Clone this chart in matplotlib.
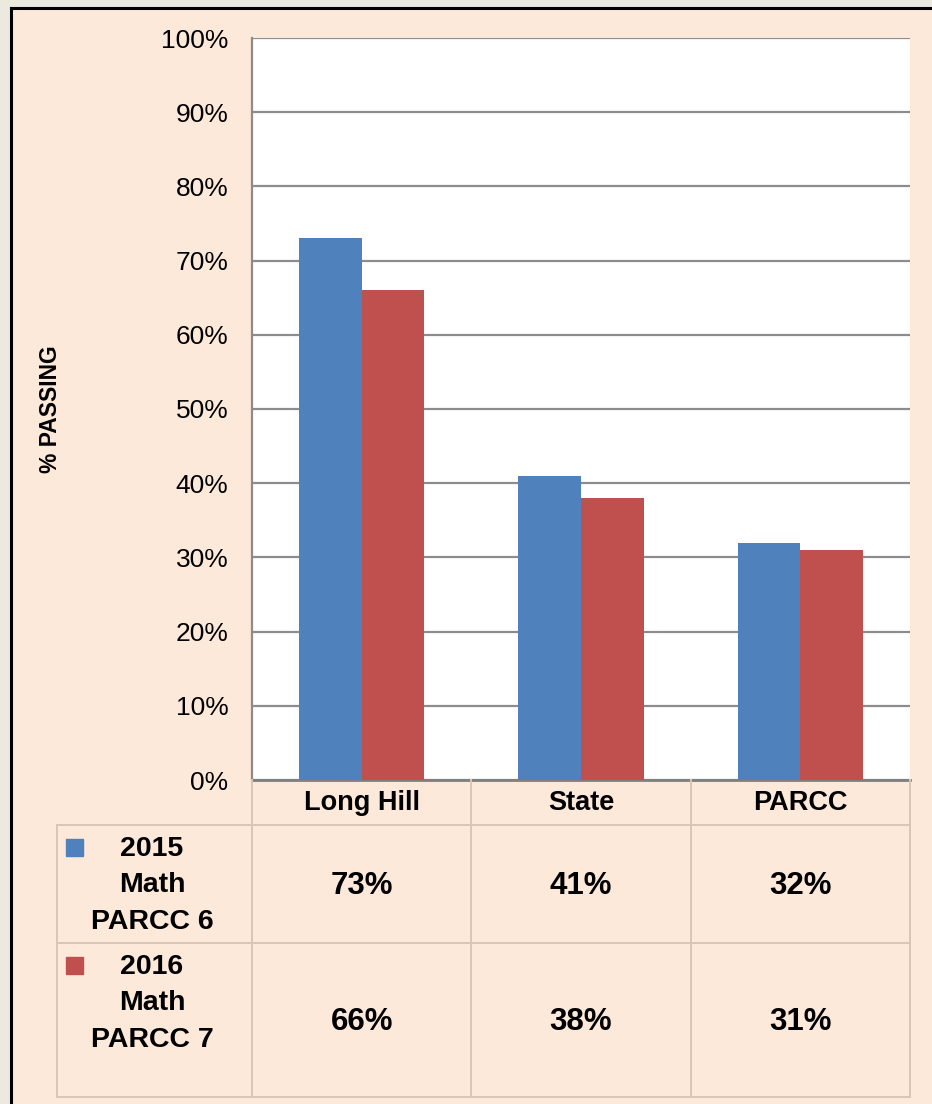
import matplotlib.pyplot as plt
from matplotlib.patches import Rectangle
from matplotlib.lines import Line2D

categories = ["Long Hill", "State", "PARCC"]
series_names = ["2015\nMath\nPARCC 6", "2016\nMath\nPARCC 7"]
values_2015 = [73, 41, 32]
values_2016 = [66, 38, 31]
yticks_pct = [0, 10, 20, 30, 40, 50, 60, 70, 80, 90, 100]

blue = "#4F81BD"
red = "#C0504D"
peach = "#FDE9DA"
grid_col = "#8C8C8C"
tbl_col = "#D9C6B6"

plt.rcParams['font.family'] = ['Liberation Sans', 'DejaVu Sans']

W, H = 932, 1104
fig = plt.figure(figsize=(W / 100, H / 100), dpi=100, facecolor=peach)

# outer frame bits (beige strip + black border on top/left)
fig.add_artist(Rectangle((0, 1 - 8 / H), 1, 8 / H, transform=fig.transFigure,
                         color="#ECEADF", zorder=0))
fig.add_artist(Rectangle((0, 0), 10 / W, 1, transform=fig.transFigure,
                         color="#ECEADF", zorder=0))
fig.add_artist(Line2D([11 / W, 1], [1 - 8 / H, 1 - 8 / H], transform=fig.transFigure,
                      color="black", lw=2.2))
fig.add_artist(Line2D([11 / W, 11 / W], [0, 1 - 8 / H], transform=fig.transFigure,
                      color="black", lw=2.2))

# main plot area
px_l, px_r, px_t, px_b = 252, 910, 38, 780
ax = fig.add_axes([px_l / W, 1 - px_b / H, (px_r - px_l) / W, (px_b - px_t) / H])
ax.set_facecolor("white")

n = len(categories)
bw = 0.285
xs = list(range(n))
ax.bar([x - bw / 2 for x in xs], values_2015, width=bw, color=blue, zorder=3)
ax.bar([x + bw / 2 for x in xs], values_2016, width=bw, color=red, zorder=3)

ax.set_xlim(-0.5, n - 0.5)
ax.set_ylim(0, 100)
ax.set_yticks(yticks_pct)
ax.set_yticklabels([f"{t}%" for t in yticks_pct], fontsize=19)
ax.tick_params(axis="y", length=0, pad=17)
ax.set_xticks([])
ax.yaxis.grid(True, color=grid_col, lw=1.6, zorder=0)
ax.set_axisbelow(True)
for s in ["top", "right"]:
    ax.spines[s].set_visible(False)
ax.spines["left"].set_color(grid_col)
ax.spines["left"].set_linewidth(1.6)
ax.spines["bottom"].set_color("#7F7F7F")
ax.spines["bottom"].set_linewidth(2)
ax.set_ylabel("% PASSING", fontsize=16.5, fontweight="bold")
ax.yaxis.set_label_coords((62 - px_l) / (px_r - px_l), 0.5)

# data table under the plot
cat_px = (px_r - px_l) / n
tbl_l, tbl_b = 57, 1097
axt = fig.add_axes([tbl_l / W, 1 - tbl_b / H, (px_r - tbl_l) / W, (tbl_b - px_b) / H])
axt.set_xlim(-0.5 - (px_l - tbl_l) / cat_px, n - 0.5)
axt.set_ylim(tbl_b, px_b)
axt.axis("off")
axt.patch.set_alpha(0)

row_edges = [780, 825, 943, 1097]
x_left = -0.5 - (px_l - tbl_l) / cat_px
lw_t = 1.4
for y in row_edges[1:]:
    axt.plot([x_left, n - 0.5], [y, y], color=tbl_col, lw=lw_t, clip_on=False)
axt.plot([x_left, x_left], [row_edges[1], row_edges[-1]], color=tbl_col, lw=lw_t, clip_on=False)
for i in range(n + 1):
    axt.plot([i - 0.5, i - 0.5], [row_edges[0], row_edges[-1]], color=tbl_col, lw=lw_t,
             clip_on=False)

for i, c in enumerate(categories):
    axt.text(i, (row_edges[0] + row_edges[1]) / 2 + 1, c, ha="center", va="center",
             fontsize=19.5, fontweight="bold")

label_x = -0.5 - (px_l - 152) / cat_px
sq_x = -0.5 - (px_l - 66) / cat_px
sq_w = 17 / cat_px
for r, (name, vals, col) in enumerate(zip(series_names, [values_2015, values_2016], [blue, red])):
    top, bot = row_edges[r + 1], row_edges[r + 2]
    axt.add_patch(Rectangle((sq_x, top + 14), sq_w, 17, color=col, clip_on=False))
    axt.text(label_x, top + 11, name, ha="center", va="top", fontsize=20.5,
             fontweight="bold", linespacing=1.52)
    for i, v in enumerate(vals):
        axt.text(i, (top + bot) / 2 + 2, f"{v}%", ha="center", va="center",
                 fontsize=22.5, fontweight="bold")

fig.savefig("out.png", dpi=100, facecolor=peach)
